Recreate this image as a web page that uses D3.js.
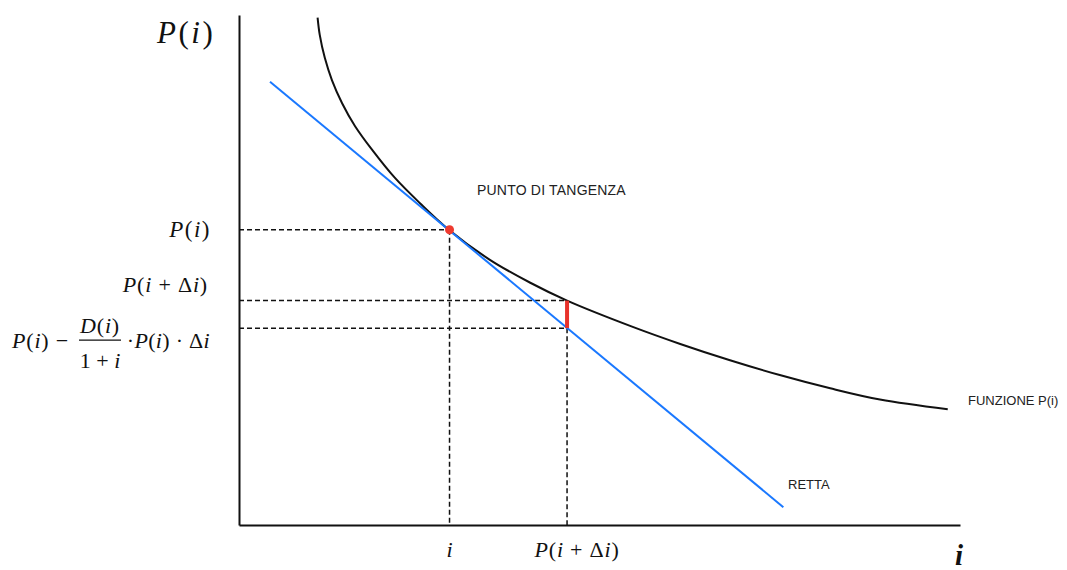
<!DOCTYPE html>
<html>
<head>
<meta charset="utf-8">
<script src="https://cdn.jsdelivr.net/npm/d3@7"></script>
<style>
  body { margin: 0; background: #fff; }
  .lbl { font-family: "Liberation Sans", Arial, sans-serif; fill: #222; }
  .math { font-family: "Liberation Serif", "DejaVu Serif", serif; fill: #111; }
</style>
</head>
<body>
<div id="chart"></div>
<script>
// curve P(i) (abstract units, 0..10 on both axes)
const curveI = [1.09, 1.12, 1.19, 1.29, 1.43, 1.61, 1.85, 2.16, 2.51, 2.91, 3.48, 4.04, 4.55, 5.47, 6.12, 6.81, 7.50, 8.20, 8.89, 9.83];
const curveP = [9.95, 9.61, 9.16, 8.72, 8.27, 7.82, 7.35, 6.81, 6.31, 5.79, 5.20, 4.75, 4.40, 3.88, 3.55, 3.23, 2.94, 2.68, 2.46, 2.27];

// tangent line (retta) end points
const rettaI = [0.43, 7.55];
const rettaP = [8.69, 0.35];

// points of interest
const iVal = 2.92;       // i
const iDelta = 4.55;     // i + Δi
const pI = 5.79;         // P(i)
const pDelta = 4.40;     // P(i + Δi)
const pRetta = 3.86;     // P(i) - D(i)/(1+i)·P(i)·Δi

const margin = { top: 15, right: 107, bottom: 45, left: 239 };
const width = 1067 - margin.left - margin.right;
const height = 570 - margin.top - margin.bottom;

const svg = d3
  .select("#chart")
  .append("svg")
  .attr("width", 1067)
  .attr("height", 570);

const g = svg.append("g").attr("transform", `translate(${margin.left}, ${margin.top})`);

const x = d3.scaleLinear().domain([0, 10]).range([0, width]);
const y = d3.scaleLinear().domain([0, 10]).range([height, 0]);

// axes without ticks
g.append("g")
  .attr("transform", `translate(0, ${height})`)
  .call(d3.axisBottom(x).tickValues([]).tickSizeOuter(0))
  .select(".domain")
  .attr("stroke", "#111")
  .attr("stroke-width", 2);

g.append("g")
  .call(d3.axisLeft(y).tickValues([]).tickSizeOuter(0))
  .select(".domain")
  .attr("stroke", "#111")
  .attr("stroke-width", 2);

// dashed guides
const guides = [
  [0, pI, iVal, pI],
  [iVal, pI, iVal, 0],
  [0, pDelta, iDelta, pDelta],
  [0, pRetta, iDelta, pRetta],
  [iDelta, pRetta, iDelta, 0]
];
g.selectAll(".guide")
  .data(guides)
  .join("line")
  .attr("class", "guide")
  .attr("x1", (d) => x(d[0]))
  .attr("y1", (d) => y(d[1]))
  .attr("x2", (d) => x(d[2]))
  .attr("y2", (d) => y(d[3]))
  .attr("stroke", "#111")
  .attr("stroke-width", 1.5)
  .attr("stroke-dasharray", "5,3");

// the function
const line = d3
  .line()
  .x((d, k) => x(curveI[k]))
  .y((d) => y(d))
  .curve(d3.curveCatmullRom.alpha(0.5));

g.append("path")
  .attr("d", line(curveP))
  .attr("fill", "none")
  .attr("stroke", "#111")
  .attr("stroke-width", 2);

// the tangent line
g.append("line")
  .attr("x1", x(rettaI[0]))
  .attr("y1", y(rettaP[0]))
  .attr("x2", x(rettaI[1]))
  .attr("y2", y(rettaP[1]))
  .attr("stroke", "#1a78ff")
  .attr("stroke-width", 2);

// error segment
g.append("line")
  .attr("x1", x(iDelta))
  .attr("y1", y(pDelta))
  .attr("x2", x(iDelta))
  .attr("y2", y(pRetta))
  .attr("stroke", "#e8322b")
  .attr("stroke-width", 4);

// tangent point
g.append("circle")
  .attr("cx", x(iVal))
  .attr("cy", y(pI))
  .attr("r", 4.5)
  .attr("fill", "#ee3a2f");

// plain labels
g.append("text").attr("class", "lbl").attr("x", 238).attr("y", 180)
  .style("font-size", "14px").style("letter-spacing", "0.2px").text("PUNTO DI TANGENZA");
g.append("text").attr("class", "lbl").attr("x", 729).attr("y", 390)
  .style("font-size", "13px").text("FUNZIONE P(i)");
g.append("text").attr("class", "lbl").attr("x", 549).attr("y", 474)
  .style("font-size", "13px").text("RETTA");

// math labels: parts are [text, italic]
function mathText(sel, px, py, parts, size, anchor) {
  const t = sel.append("text")
    .attr("class", "math")
    .attr("x", px)
    .attr("y", py)
    .attr("text-anchor", anchor || "start")
    .style("font-size", size + "px");
  parts.forEach((p) => {
    t.append("tspan").style("font-style", p[1] ? "italic" : "normal").text(p[0]);
  });
  return t;
}

const Pi = [["P", 1], ["(", 0], ["i", 1], [")", 0]];
const PiD = [["P", 1], ["(", 0], ["i", 1], [" + Δ", 0], ["i", 1], [")", 0]];

mathText(g, -28, y(pI) + 7, Pi, 23, "end").style("letter-spacing", "1.5px");
mathText(g, -31, y(pDelta) - 9, PiD, 22, "end").style("letter-spacing", "0.8px");

// fraction label
mathText(g, -227, y(pRetta) + 20, Pi.concat([[" −", 0]]), 22, "start").style("letter-spacing", "0.8px");
mathText(g, -139, y(pRetta) + 5, [["D", 1], ["(", 0], ["i", 1], [")", 0]], 22, "middle").style("letter-spacing", "0.8px");
g.append("line")
  .attr("x1", -160).attr("x2", -118)
  .attr("y1", y(pRetta) + 12).attr("y2", y(pRetta) + 12)
  .attr("stroke", "#111").attr("stroke-width", 1.2);
mathText(g, -139, y(pRetta) + 40, [["1 + ", 0], ["i", 1]], 22, "middle");
mathText(g, -29, y(pRetta) + 20, [["·", 0]].concat(Pi, [[" · Δ", 0], ["i", 1]]), 22, "end").style("letter-spacing", "0.3px");

// x labels
mathText(g, x(iVal), height + 32, [["i", 1]], 22, "middle");
mathText(g, x(iDelta) + 10, height + 32, PiD, 22, "middle").style("letter-spacing", "0.8px");

// axis names
mathText(g, -82, 28, Pi, 31, "start").style("letter-spacing", "2.5px");
mathText(g, width - 5, height + 40, [["i", 1]], 29, "start").style("font-weight", "bold");
</script>
</body>
</html>
